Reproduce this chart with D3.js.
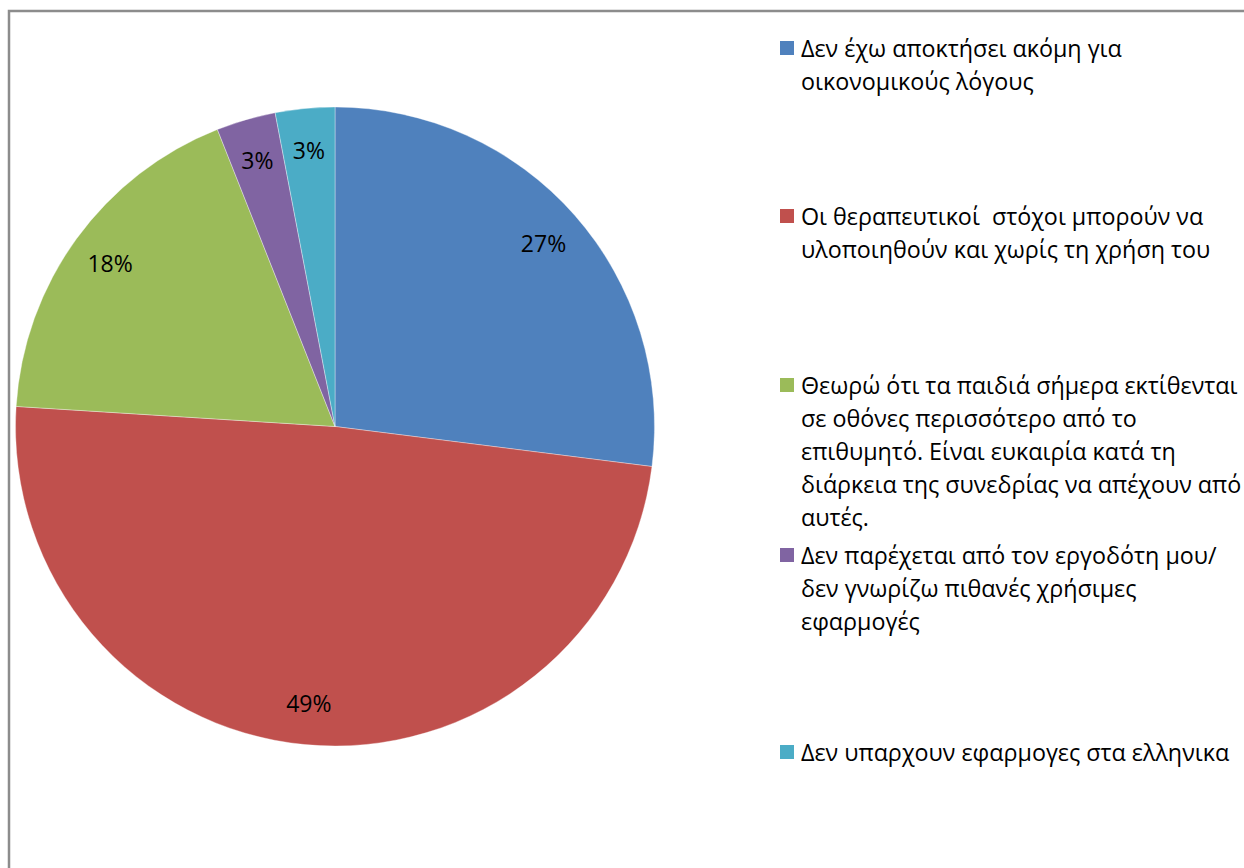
<!DOCTYPE html>
<html><head><meta charset="utf-8">
<script src="https://cdn.jsdelivr.net/npm/d3@7"></script>
<style>html,body{margin:0;padding:0;background:#fff;overflow:hidden} text{white-space:pre}</style>
</head><body><svg id="c" width="1244" height="868"></svg>
<script>
const categories = [
  ["Δεν έχω αποκτήσει ακόμη για", "οικονομικούς λόγους"],
  ["Οι θεραπευτικοί  στόχοι μπορούν να", "υλοποιηθούν και χωρίς τη χρήση του"],
  ["Θεωρώ ότι τα παιδιά σήμερα εκτίθενται", "σε οθόνες περισσότερο από το", "επιθυμητό. Είναι ευκαιρία κατά τη", "διάρκεια της συνεδρίας να απέχουν από", "αυτές."],
  ["Δεν παρέχεται από τον εργοδότη μου/", "δεν γνωρίζω πιθανές χρήσιμες", "εφαρμογές"],
  ["Δεν υπαρχουν εφαρμογες στα ελληνικα"]
];
const values = [27, 49, 18, 3, 3];
const colors = ["#4F81BD", "#C0504D", "#9BBB59", "#8064A2", "#4BACC6"];
const legendY = [48, 216, 385, 555, 752];

const svg = d3.select("#c");
const font = "'Open Sans', 'Noto Sans', sans-serif";
// frame
svg.append("rect").attr("x", 9).attr("y", 11).attr("width", 1300).attr("height", 900)
  .attr("fill", "none").attr("stroke", "#8c8c8c").attr("stroke-width", 2.5);

const cx = 335, cy = 426.5, R = 319.5;
const total = d3.sum(values);
const pie = d3.pie().sort(null).value(d => d)(values);
const arc = d3.arc().innerRadius(0).outerRadius(R);
const labelArc = d3.arc().innerRadius(278).outerRadius(278);
const g = svg.append("g").attr("transform", `translate(${cx},${cy})`);
g.selectAll("path").data(pie).join("path")
  .attr("d", arc).attr("fill", (d, i) => colors[i])
  .attr("stroke", "#fff").attr("stroke-width", 0.6).attr("stroke-opacity", 0.6);
g.selectAll("text").data(pie).join("text")
  .attr("transform", d => `translate(${labelArc.centroid(d)})`)
  .attr("text-anchor", "middle").attr("dominant-baseline", "central")
  .attr("font-family", font).attr("font-size", 23).attr("fill", "#000")
  .text(d => Math.round(d.value / total * 100) + "%");

const lg = svg.append("g");
categories.forEach((lines, i) => {
  lg.append("rect").attr("x", 780).attr("y", legendY[i] - 7).attr("width", 14).attr("height", 14)
    .attr("fill", colors[i]);
  const t = lg.append("text").attr("font-family", font).attr("font-size", 23.3).attr("fill", "#000");
  lines.forEach((l, j) => {
    t.append("tspan").attr("x", 801).attr("y", legendY[i] + j * 33)
      .attr("dominant-baseline", "central").text(l);
  });
});
</script></body></html>
